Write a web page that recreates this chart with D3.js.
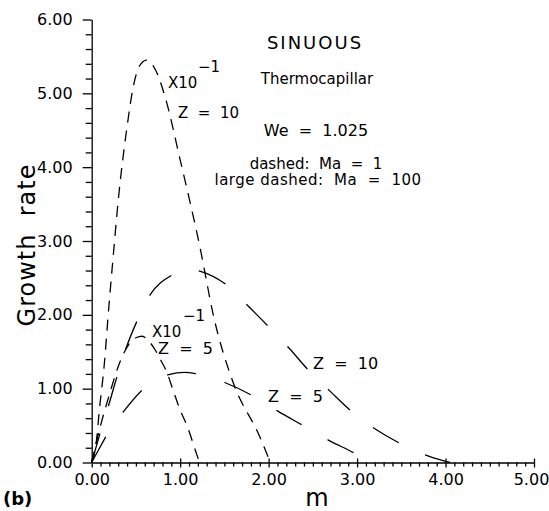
<!DOCTYPE html>
<html><head><meta charset="utf-8">
<script src="https://cdn.jsdelivr.net/npm/d3@7"></script>
<style>
body{margin:0;background:#fff}
text{font-family:"DejaVu Sans",sans-serif;fill:#000}
.axis path,.axis line{stroke:#000;stroke-width:1.3}
</style>
</head><body>
<svg id="c" width="549" height="511"></svg>
<script>
// ---- data ----
const xTickLabels = ["0.00","1.00","2.00","3.00","4.00","5.00"];
const yTickLabels = ["0.00","1.00","2.00","3.00","4.00","5.00","6.00"];
const xTicks = [0,1,2,3,4,5];
const yTicks = [0,1,2,3,4,5,6];

// Ma = 1 (dashed), Z = 10 (values x10^-1)
const mZ10Ma1 = [0,0.05,0.09,0.14,0.2,0.24,0.30,0.40,0.47,0.54,0.62,0.72,0.83,1.0,1.23,1.38,1.60,1.90,2.02];
const gZ10Ma1 = [0,0.26,0.75,1.3,2.2,2.75,3.55,4.55,5.09,5.37,5.45,5.32,4.95,4.10,2.88,1.97,1.08,0.35,0];
// Ma = 1 (dashed), Z = 5 (values x10^-1)
const mZ5Ma1 = [0,0.1,0.2,0.3,0.42,0.5,0.57,0.64,0.72,0.77,0.85,0.92,1.0,1.08,1.19,1.22];
const gZ5Ma1 = [0,0.5,0.92,1.3,1.6,1.69,1.71,1.65,1.52,1.41,1.22,0.98,0.71,0.49,0.10,0];
// Ma = 100 (large dashed), Z = 10
const mZ10Ma100 = [0,0.1,0.21,0.28,0.38,0.51,0.66,0.91,1.1,1.23,1.53,1.76,2.0,2.23,2.45,2.70,2.94,3.21,3.50,3.80,4.05];
const gZ10Ma100 = [0,0.42,0.85,1.14,1.52,1.91,2.27,2.54,2.62,2.59,2.40,2.13,1.84,1.55,1.25,0.96,0.69,0.45,0.25,0.09,0];
// Ma = 100 (large dashed), Z = 5
const mZ5Ma100 = [0,0.1,0.2,0.36,0.57,0.87,1.05,1.19,1.51,1.81,2.10,2.39,2.68,2.98,3.15];
const gZ5Ma100 = [0,0.22,0.43,0.69,0.98,1.19,1.22,1.20,1.08,0.91,0.70,0.50,0.30,0.12,0];

const svg = d3.select("#c");
const x = d3.scaleLinear().domain([0,5]).range([91.7,534]);
const y = d3.scaleLinear().domain([0,6]).range([462.5,19.5]);

const xMinor = d3.range(0,50.5).map(i=>i/10).filter(v=>Math.abs(v-Math.round(v))>1e-6);
const yMinor = d3.range(0,30.5).map(i=>i/5).filter(v=>Math.abs(v-Math.round(v))>1e-6);

// y axis
svg.append("g").attr("class","axis").attr("transform",`translate(${x(0)},0)`)
  .call(d3.axisLeft(y).tickValues(yTicks).tickFormat((d,i)=>yTickLabels[i]).tickSize(9).tickSizeOuter(0).tickPadding(10))
  .call(g=>g.selectAll("text").attr("font-size",16).attr("font-family","DejaVu Sans"));
svg.append("g").attr("class","axis").attr("transform",`translate(${x(0)},0)`)
  .call(d3.axisLeft(y).tickValues(yMinor).tickFormat("").tickSize(6).tickSizeOuter(0))
  .call(g=>g.select(".domain").remove());

// x axis
svg.append("g").attr("class","axis").attr("transform",`translate(0,${y(0)})`)
  .call(d3.axisBottom(x).tickValues(xTicks).tickFormat((d,i)=>xTickLabels[i]).tickSize(5).tickSizeOuter(0).tickPadding(6))
  .call(g=>g.selectAll("text").attr("font-size",16).attr("font-family","DejaVu Sans")
     .attr("dx",(d,i)=>i===xTicks.length-1?-3:0));
svg.append("g").attr("class","axis").attr("transform",`translate(0,${y(0)})`)
  .call(d3.axisBottom(x).tickValues(xMinor).tickFormat("").tickSize(4).tickSizeOuter(0))
  .call(g=>g.select(".domain").remove());
svg.append("g").attr("class","axis").attr("transform",`translate(0,${y(0)})`)
  .call(d3.axisTop(x).tickValues(xTicks).tickFormat("").tickSize(4).tickSizeOuter(0))
  .call(g=>g.select(".domain").remove());

// curves
const line = d3.line().x(d=>x(d[0])).y(d=>y(d[1])).curve(d3.curveMonotoneX);
const series = [
  {m:mZ10Ma1, g:gZ10Ma1, dash:"11,8"},
  {m:mZ5Ma1, g:gZ5Ma1, dash:"11,8"},
  {m:mZ10Ma100, g:gZ10Ma100, dash:"30,29"},
  {m:mZ5Ma100, g:gZ5Ma100, dash:"29,30"}
];
series.forEach(s=>{
  svg.append("path").datum(s.m.map((v,i)=>[v,s.g[i]]))
    .attr("d",line).attr("fill","none").attr("stroke","#000")
    .attr("stroke-width",1.3).attr("stroke-dasharray",s.dash);
});

// texts
function txt(t,xx,yy,size,opts={}){
  const e = svg.append("text").attr("x",xx).attr("y",yy).attr("font-size",size)
    .attr("text-anchor",opts.anchor||"middle").style("white-space","pre").text(t);
  if(opts.ls) e.attr("letter-spacing",opts.ls);
  if(opts.family) e.attr("font-family",opts.family);
  if(opts.weight) e.attr("font-weight",opts.weight);
  if(opts.transform) e.attr("transform",opts.transform);
  return e;
}
txt("SINUOUS",315,49,18,{ls:2});
txt("Thermocapillar",317,83.5,15);
txt("We  =  1.025",316,136,16);
txt("dashed:  Ma  =  1",316,168.5,15);
txt("large dashed:  Ma  =  100",318,185,15,{ls:0.5});

txt("X10",168,87.5,15,{anchor:"start"});
txt("\u22121",198,72,15,{anchor:"start"});
txt("Z  =  10",178,117.5,15,{anchor:"start"});

txt("\u22121",183,321,15,{anchor:"start"});
txt("X10",152,336.5,15,{anchor:"start"});
txt("Z  =  5",158,353.5,16,{anchor:"start"});

txt("Z  =  10",313,369,16,{anchor:"start"});
txt("Z  =  5",268,402,16,{anchor:"start"});

txt("Growth  rate",0,0,24,{ls:1,transform:"translate(35,245) rotate(-90)"});
txt("m",317,506,24);
txt("(b)",3,505,18,{anchor:"start",family:"Liberation Serif",weight:"bold"});
</script>
</body></html>
